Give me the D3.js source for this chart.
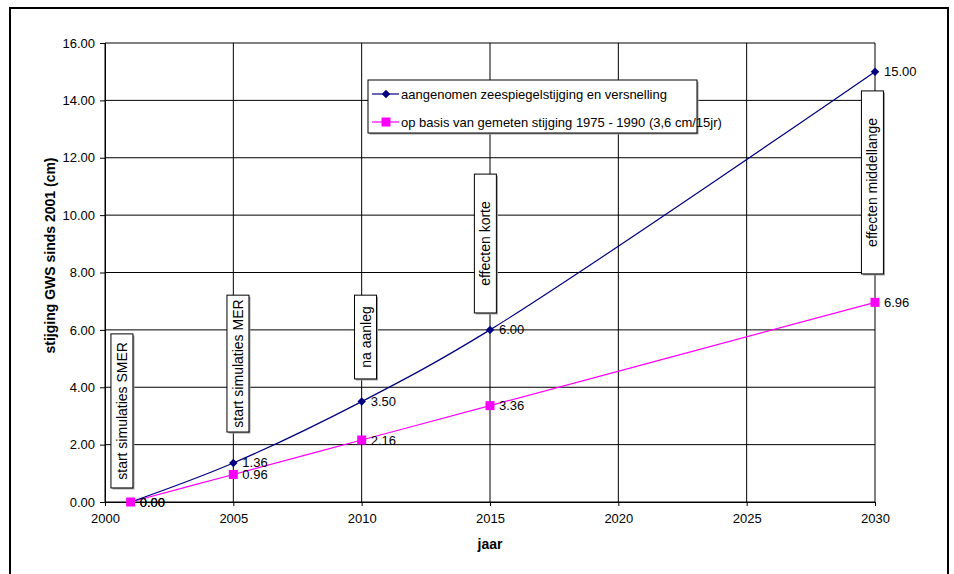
<!DOCTYPE html>
<html>
<head>
<meta charset="utf-8">
<script src="https://cdn.jsdelivr.net/npm/d3@7/dist/d3.min.js"></script>
<style>
  html, body { margin: 0; padding: 0; background: #fff; }
  svg { display: block; font-family: Arial, "Liberation Sans", sans-serif; }
</style>
</head>
<body>
<svg id="chart" width="954" height="574"></svg>
<script>
// Years at which both projections are given
const years = [2001, 2005, 2010, 2015, 2030];
// Assumed sea level rise with acceleration (cm since 2001)
const seaLevelRise = [0.00, 1.36, 3.50, 6.00, 15.00];
// Extrapolation of measured rise 1975-1990 (cm since 2001)
const measuredTrend = [0.00, 0.96, 2.16, 3.36, 6.96];

const seriesNames = [
  "aangenomen zeespiegelstijging en versnelling",
  "op basis van gemeten stijging 1975 - 1990 (3,6 cm/15jr)"
];

const xTicks = [2000, 2005, 2010, 2015, 2020, 2025, 2030];
const yTicks = [0, 2, 4, 6, 8, 10, 12, 14, 16];

// Milestone notes: text, year they sit at, and vertical extent (cm)
const noteTexts = ["start simulaties SMER", "start simulaties MER", "na aanleg", "effecten korte", "effecten middellange"];
const noteYears = [2000.66, 2005.18, 2010.15, 2014.82, 2029.90];
const noteTop = [5.86, 7.21, 7.21, 11.43, 14.33];
const noteBottom = [0.49, 2.44, 4.29, 6.59, 7.95];

const svg = d3.select("#chart");
const plot = { left: 105, right: 875, top: 43, bottom: 502 };

const x = d3.scaleLinear().domain([2000, 2030]).range([plot.left, plot.right]);
const y = d3.scaleLinear().domain([0, 16]).range([plot.bottom, plot.top]);

// outer frame
svg.append("rect")
  .attr("x", 10).attr("y", 8).attr("width", 938).attr("height", 620)
  .attr("fill", "#fff").attr("stroke", "#000").attr("stroke-width", 2);

// gridlines
const grid = svg.append("g");
grid.selectAll("line.h").data(yTicks).join("line")
  .attr("x1", plot.left).attr("x2", plot.right)
  .attr("y1", d => y(d)).attr("y2", d => y(d))
  .attr("stroke", "#000").attr("stroke-width", 1);
grid.selectAll("line.v").data(xTicks).join("line")
  .attr("x1", d => x(d)).attr("x2", d => x(d))
  .attr("y1", plot.top).attr("y2", plot.bottom)
  .attr("stroke", "#000").attr("stroke-width", 1);

// axes
const yAxis = d3.axisLeft(y).tickValues(yTicks).tickFormat(d3.format(".2f")).tickSize(5).tickPadding(5);
const xAxis = d3.axisBottom(x).tickValues(xTicks).tickFormat(d3.format("d")).tickSize(4).tickPadding(8);

const gy = svg.append("g").attr("transform", `translate(${plot.left},0)`).call(yAxis);
const gx = svg.append("g").attr("transform", `translate(0,${plot.bottom})`).call(xAxis);
[gx, gy].forEach(g => {
  g.select(".domain").attr("stroke", "#000");
  g.selectAll(".tick line").attr("stroke", "#000");
  g.selectAll(".tick text").attr("fill", "#000").attr("font-size", 13)
    .attr("font-family", 'Arial, "Liberation Sans", sans-serif');
});

// axis titles
svg.append("text")
  .attr("transform", `translate(55,${(plot.top + plot.bottom) / 2 - 17}) rotate(-90)`)
  .attr("text-anchor", "middle").attr("font-size", 14).attr("font-weight", "bold")
  .text("stijging GWS sinds 2001 (cm)");
svg.append("text")
  .attr("x", (plot.left + plot.right) / 2).attr("y", 549)
  .attr("text-anchor", "middle").attr("font-size", 14).attr("font-weight", "bold")
  .text("jaar");

// milestone notes
const notes = svg.append("g");
noteTexts.forEach((t, i) => {
  const cx = x(noteYears[i]);
  const top = y(noteTop[i]), bottom = y(noteBottom[i]);
  const w = 22;
  notes.append("rect")
    .attr("x", cx - w / 2 + 1.5).attr("y", top + 1.5).attr("width", w).attr("height", bottom - top)
    .attr("fill", "#999");
  notes.append("rect")
    .attr("x", cx - w / 2).attr("y", top).attr("width", w).attr("height", bottom - top)
    .attr("fill", "#fff").attr("stroke", "#000").attr("stroke-width", 1);
  notes.append("text")
    .attr("transform", `translate(${cx + 5},${(top + bottom) / 2}) rotate(-90)`)
    .attr("text-anchor", "middle").attr("font-size", 14)
    .text(t);
});

// series
const line = d3.line().x(d => x(d[0])).y(d => y(d[1])).curve(d3.curveCatmullRom.alpha(0.5));
const blueData = years.map((yr, i) => [yr, seaLevelRise[i]]);
const pinkData = years.map((yr, i) => [yr, measuredTrend[i]]);
const blue = "#000080", pink = "#ff00ff";

svg.append("path").datum(pinkData).attr("d", line)
  .attr("fill", "none").attr("stroke", pink).attr("stroke-width", 1.2);
svg.append("path").datum(blueData).attr("d", line)
  .attr("fill", "none").attr("stroke", blue).attr("stroke-width", 1.2);

const diamondPath = d3.symbol().type(d3.symbolSquare).size(36);

svg.append("g").selectAll("path").data(blueData).join("path")
  .attr("transform", d => `translate(${x(d[0])},${y(d[1])}) rotate(45)`)
  .attr("d", diamondPath)
  .attr("fill", blue);
svg.append("g").selectAll("rect").data(pinkData).join("rect")
  .attr("x", d => x(d[0]) - 4.5).attr("y", d => y(d[1]) - 4.5)
  .attr("width", 9).attr("height", 9).attr("fill", pink);

// value labels
const fmt = d3.format(".2f");
[blueData, pinkData].forEach(data => {
  svg.append("g").selectAll("text").data(data).join("text")
    .attr("x", d => x(d[0]) + 9).attr("y", d => y(d[1]) + 4.5)
    .attr("font-size", 13).attr("fill", "#000")
    .text(d => fmt(d[1]));
});

// legend
const lg = svg.append("g").attr("transform", "translate(368,80)");
lg.append("rect").attr("x", 1.5).attr("y", 1.5).attr("width", 329).attr("height", 53).attr("fill", "#999");
lg.append("rect").attr("width", 329).attr("height", 53)
  .attr("fill", "#fff").attr("stroke", "#000").attr("stroke-width", 1);
const legendItems = [
  { name: seriesNames[0], color: blue, shape: "diamond", dy: 14 },
  { name: seriesNames[1], color: pink, shape: "square", dy: 42 }
];
legendItems.forEach(it => {
  lg.append("line").attr("x1", 4).attr("x2", 31).attr("y1", it.dy).attr("y2", it.dy)
    .attr("stroke", it.color).attr("stroke-width", 1.2);
  if (it.shape === "diamond") {
    lg.append("path").attr("transform", `translate(18,${it.dy}) rotate(45)`)
      .attr("d", diamondPath).attr("fill", it.color);
  } else {
    lg.append("rect").attr("x", 13.5).attr("y", it.dy - 4.5).attr("width", 9).attr("height", 9).attr("fill", it.color);
  }
  lg.append("text").attr("x", 33).attr("y", it.dy + 5).attr("font-size", 13).text(it.name);
});
</script>
</body>
</html>
